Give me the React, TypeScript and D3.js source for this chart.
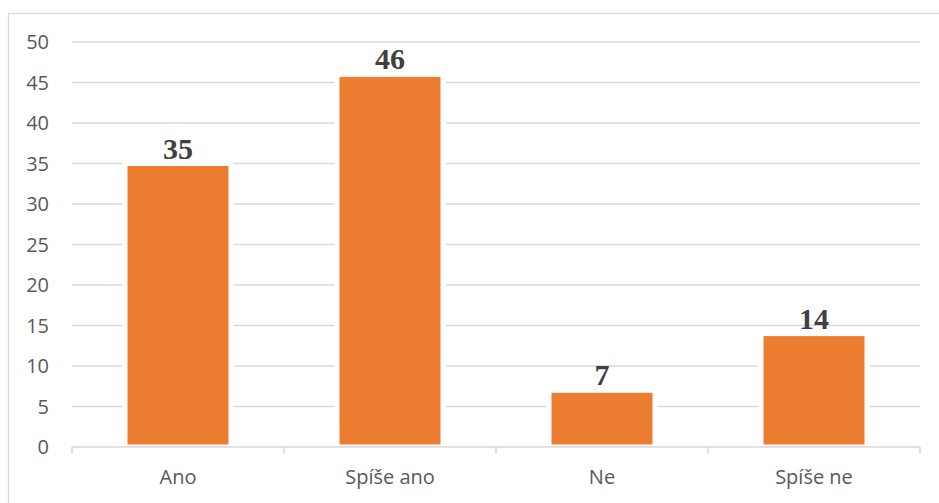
import React from "react";
import * as d3 from "d3";

const categories: string[] = ["Ano", "Spíše ano", "Ne", "Spíše ne"];
const values: number[] = [35, 46, 7, 14];
const yTicks: number[] = [0, 5, 10, 15, 20, 25, 30, 35, 40, 45, 50];

const W = 939;
const H = 503;
const left = 72;
const right = 920;
const top = 42;
const bottom = 447;

export default function App() {
  const x = d3
    .scaleBand<string>()
    .domain(categories)
    .range([left, right])
    .paddingInner(0.5)
    .paddingOuter(0.25);
  const y = d3.scaleLinear().domain([0, 50]).range([bottom, top]);
  const step = x.step();
  const boundaries = d3.range(categories.length + 1).map((i) => left + i * step);

  return (
    <svg
      width={W}
      height={H}
      style={{ position: "absolute", left: 0, top: 0, display: "block", background: "#fff" }}
    >
      <rect x={8.5} y={13.5} width={W + 20} height={H + 20} fill="#fff" stroke="#d9d9d9" strokeWidth={1.3} />
      {yTicks.map((t) => (
        <g key={t}>
          {t !== 0 && (
            <line x1={left} x2={right} y1={y(t)} y2={y(t)} stroke="#d9d9d9" strokeWidth={1.3} />
          )}
          <text
            x={49}
            y={y(t)}
            dy="0.36em"
            textAnchor="end"
            fontFamily="'Open Sans', sans-serif"
            fontSize={20}
            fill="#595959"
          >
            {t}
          </text>
        </g>
      ))}
      {categories.map((c, i) => (
        <rect
          key={c}
          x={x(c)!}
          y={y(values[i])}
          width={x.bandwidth()}
          height={bottom - y(values[i])}
          fill="#ED7D31"
          stroke="#fff"
          strokeWidth={5}
        />
      ))}
      <line x1={left} x2={right} y1={bottom} y2={bottom} stroke="#d9d9d9" strokeWidth={1.5} />
      {boundaries.map((b, i) => (
        <line key={i} x1={b} x2={b} y1={bottom} y2={bottom + 7} stroke="#d9d9d9" strokeWidth={1.5} />
      ))}
      {categories.map((c) => (
        <text
          key={c}
          x={x(c)! + x.bandwidth() / 2}
          y={484}
          textAnchor="middle"
          fontFamily="'Open Sans', sans-serif"
          fontSize={20}
          fill="#595959"
        >
          {c}
        </text>
      ))}
      {categories.map((c, i) => (
        <text
          key={c}
          x={x(c)! + x.bandwidth() / 2}
          y={y(values[i]) - 5}
          textAnchor="middle"
          fontFamily="'Liberation Serif', 'Times New Roman', serif"
          fontWeight="bold"
          fontSize={30}
          fill="#404040"
        >
          {values[i]}
        </text>
      ))}
    </svg>
  );
}
